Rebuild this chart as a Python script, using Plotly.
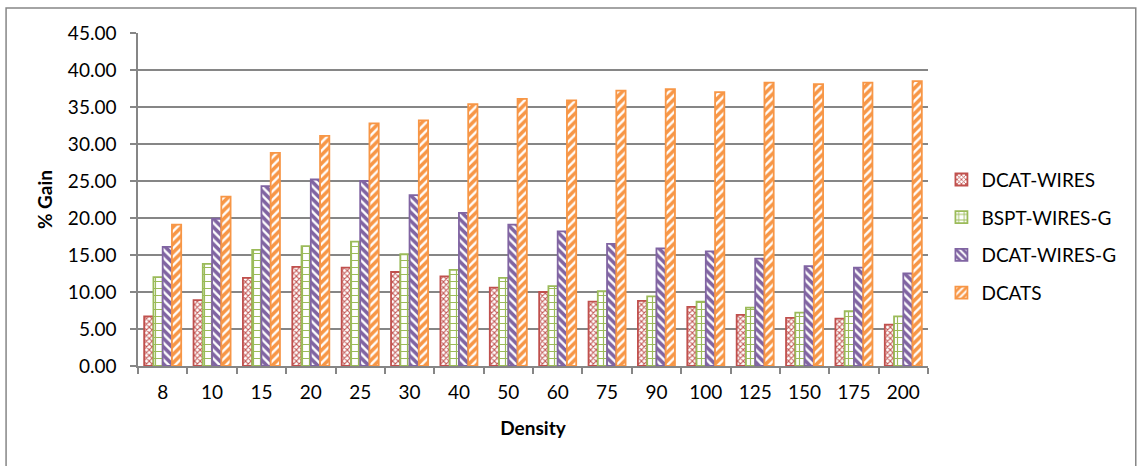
import plotly.graph_objects as go

density = ["8", "10", "15", "20", "25", "30", "40", "50", "60", "75", "90", "100", "125", "150", "175", "200"]
dcat_wires = [6.7, 8.9, 11.9, 13.4, 13.3, 12.7, 12.1, 10.6, 10.0, 8.7, 8.8, 8.0, 6.9, 6.5, 6.4, 5.6]
bspt_wires_g = [12.0, 13.8, 15.7, 16.2, 16.8, 15.1, 13.0, 11.9, 10.8, 10.1, 9.4, 8.7, 7.9, 7.2, 7.4, 6.7]
dcat_wires_g = [16.1, 19.9, 24.3, 25.2, 25.0, 23.1, 20.7, 19.1, 18.2, 16.5, 15.9, 15.5, 14.5, 13.5, 13.3, 12.5]
dcats = [19.1, 22.9, 28.8, 31.1, 32.8, 33.2, 35.4, 36.1, 35.9, 37.2, 37.4, 37.0, 38.3, 38.1, 38.3, 38.5]

series = [
    ("DCAT-WIRES", dcat_wires, "#C0504D", "x", 4, 0.45),
    ("BSPT-WIRES-G", bspt_wires_g, "#9BBB59", "+", 7, 0.3),
    ("DCAT-WIRES-G", dcat_wires_g, "#8064A2", "\\", 6, 0.6),
    ("DCATS", dcats, "#F79646", "/", 6, 0.6),
]

FONT = "Lato"
FS = 19
fig = go.Figure()
for i, (name, vals, col, shape, size, sol) in enumerate(series):
    fig.add_trace(go.Bar(
        x=density, y=vals, name=name, legendgroup=f"g{i}",
        marker=dict(color="white",
                    line=dict(color=col, width=1.8),
                    pattern=dict(shape=shape, fgcolor=col, bgcolor="white",
                                 size=size, solidity=sol, fillmode="overlay",
                                 fgopacity=1)),
    ))

fig.update_layout(
    width=1138, height=466,
    margin=dict(l=138, r=210, t=33, b=100),
    paper_bgcolor="white", plot_bgcolor="white",
    barmode="group", bargap=0.25, bargroupgap=0.0,
    font=dict(family=FONT, size=FS, color="black"),
    legend=dict(x=1.017, y=0.39, xanchor="left", yanchor="middle",
                font=dict(family=FONT, size=FS, color="black"),
                tracegroupgap=10, bgcolor="rgba(0,0,0,0)"),
    showlegend=True,
    xaxis=dict(type="category", showline=True, linecolor="#868686", linewidth=1.5,
               ticks="outside", tickson="boundaries", ticklen=6, tickcolor="#868686",
               tickwidth=1.5, ticklabelstandoff=8,
               title=dict(text="<b>Density</b>", font=dict(family=FONT, size=FS), standoff=20),
               tickfont=dict(family=FONT, size=FS)),
    yaxis=dict(range=[0, 45], dtick=5, tickformat=".2f", showgrid=True,
               gridcolor="#868686", gridwidth=1.5, showline=True, linecolor="#868686",
               linewidth=1.5, ticks="outside", ticklen=6, tickcolor="#868686", tickwidth=1.5,
               zeroline=False, ticklabelstandoff=10,
               title=dict(text="<b>% Gain</b>", font=dict(family=FONT, size=FS), standoff=10),
               tickfont=dict(family=FONT, size=FS)),
    shapes=[dict(type="rect", xref="paper", yref="paper",
                 x0=-0.167, x1=1.263, y0=-0.5, y1=1.075,
                 line=dict(color="#868686", width=1.5), fillcolor="rgba(0,0,0,0)",
                 layer="below")],
)

fig.write_html("out.html")
